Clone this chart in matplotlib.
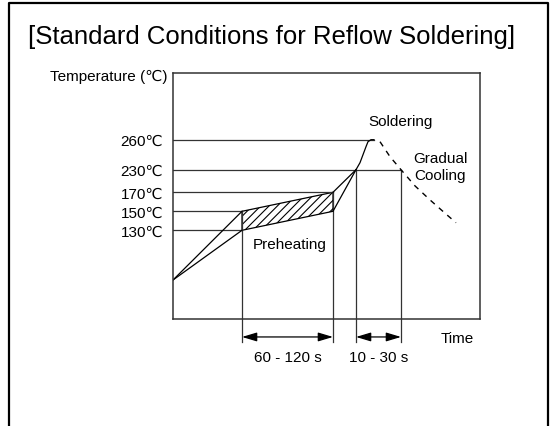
import numpy as np
import matplotlib
matplotlib.use("Agg")
import matplotlib.pyplot as plt
from matplotlib.lines import Line2D
from matplotlib.transforms import blended_transform_factory

plt.rcParams['font.family'] = ['Liberation Sans', 'DejaVu Sans']
plt.rcParams['hatch.linewidth'] = 0.8

# temperature levels marked on the axis (deg C)
levels = [130, 150, 170, 230, 260]
level_labels = ['130℃', '150℃', '170℃', '230℃', '260℃']

# schematic time axis (arbitrary units), profile key points
t_start = 0
t_pre_start = 69
t_pre_end = 160
t_solder = 183
t_cool = 228
T_room = 25

# preheat band: lower / upper temperatures at start and end
pre_low = [130, 150]
pre_high = [150, 170]

# soldering peak rise
peak_t = [183, 187, 190, 193, 195, 198, 201]
peak_T = [230, 237, 245, 253, 258, 260, 260]

# gradual cooling (dashed)
cool_t = [207, 217, 228, 242, 257, 272, 283]
cool_T = [258, 243, 230, 187, 162, 148, 138]

# where each guide line reaches
guide_end = {260: 201, 230: 228, 170: 160, 150: 69, 130: 69}
vlines = [(69, 150), (160, 170), (183, 230), (228, 230)]

# broken (schematic) temperature scale
T_anchor = [0, 25, 130, 150, 170, 230, 260, 300]
H_anchor = [0, 39, 88.7, 107.7, 126.7, 149.3, 179.3, 246]
fwd = lambda v: np.interp(v, T_anchor, H_anchor)
inv = lambda v: np.interp(v, H_anchor, T_anchor)

W, H = 552, 427
fig = plt.figure(figsize=(W / 100, H / 100), dpi=100)
ax = fig.add_axes([173 / W, (H - 320) / H, 307 / W, 246 / H])
ax.set_yscale('function', functions=(fwd, inv))
ax.set_xlim(0, 307)
ax.set_ylim(0, 300)
for s in ax.spines.values():
    s.set_color('#333333')
    s.set_linewidth(1.1)
ax.set_xticks([])
ax.set_yticks(levels, level_labels, fontsize=11)
ax.yaxis.set_minor_locator(matplotlib.ticker.NullLocator())
ax.tick_params(axis='y', length=0, pad=7)

gc = '#333333'
for T in levels:
    ax.plot([0, guide_end[T]], [T, T], color=gc, lw=0.9)

below = blended_transform_factory(ax.transData, ax.transAxes)
for x, T in vlines:
    ax.plot([x, x], [0, T], color=gc, lw=0.9)
    ax.plot([x, x], [0, -0.094], color=gc, lw=0.9, transform=below, clip_on=False)

# ramp up and preheat band
k = 'black'
ax.plot([t_start, t_pre_start], [T_room, pre_high[0]], color=k, lw=0.9)
ax.plot([t_start, t_pre_start], [T_room, pre_low[0]], color=k, lw=0.9)
ax.fill([t_pre_start, t_pre_end, t_pre_end, t_pre_start],
        [pre_high[0], pre_high[1], pre_low[1], pre_low[0]],
        facecolor='none', edgecolor=k, hatch='////', lw=0.9)
ax.plot([t_pre_end, t_solder], [pre_high[1], 230], color=k, lw=0.9)
ax.plot([t_pre_end, t_solder], [pre_low[1], 230], color=k, lw=0.9)
ax.plot(peak_t, peak_T, color=k, lw=0.9)
ax.plot(cool_t, cool_T, color=k, lw=1.0, linestyle=(0, (4, 4)))

# dimension arrows
arr = dict(arrowstyle='<|-|>,head_length=0.6,head_width=0.18', color='black',
           lw=0.9, shrinkA=0, shrinkB=0, mutation_scale=15)
ax.annotate('', xy=(t_pre_start, -0.073), xytext=(t_pre_end, -0.073),
            xycoords=below, textcoords=below, arrowprops=arr)
ax.annotate('', xy=(t_solder, -0.073), xytext=(t_cool, -0.073),
            xycoords=below, textcoords=below, arrowprops=arr)
ax.text((t_pre_start + t_pre_end) / 2, -0.155, '60 - 120 s', transform=below,
        ha='center', va='center', fontsize=11)
ax.text((t_solder + t_cool) / 2, -0.155, '10 - 30 s', transform=below,
        ha='center', va='center', fontsize=11)
ax.text(284, -0.078, 'Time', transform=below, ha='center', va='center', fontsize=11)

ax.text(117, 101, 'Preheating', ha='center', va='center', fontsize=11)
ax.text(228, 271, 'Soldering', ha='center', va='center', fontsize=11)
ax.text(267, 233, 'Gradual\nCooling', ha='center', va='center', fontsize=11,
        linespacing=1.3)

fig.text(167 / W, 1 - 77 / H, 'Temperature (℃)', ha='right', va='center', fontsize=11)
fig.text(28 / W, 1 - 37 / H, '[Standard Conditions for Reflow Soldering]',
         ha='left', va='center', fontsize=18.5)

fig.add_artist(Line2D([9 / W, 9 / W, 548 / W, 548 / W], [0, 1 - 4 / H, 1 - 4 / H, 0],
                      color='black', lw=1.6, transform=fig.transFigure))

fig.savefig('out.png', dpi=100)
